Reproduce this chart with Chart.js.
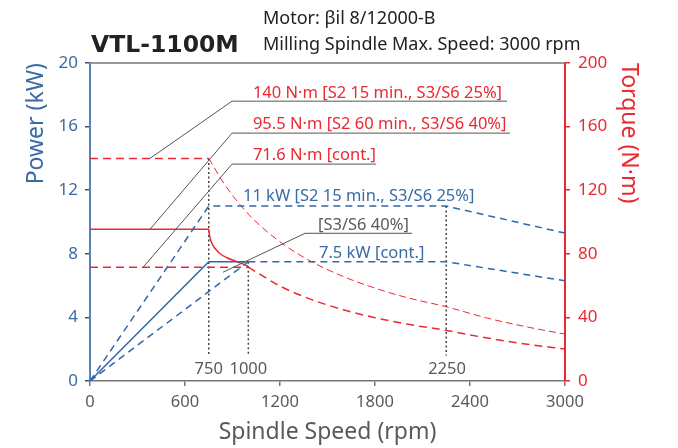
<!DOCTYPE html>
<html>
<head>
<meta charset="utf-8">
<script src="https://cdn.jsdelivr.net/npm/chart.js@4"></script>
<style>
  html, body { margin: 0; padding: 0; background: #fff; }
  #wrap { width: 678px; height: 448px; }
</style>
</head>
<body>
<div id="wrap"><canvas id="spindle" width="678" height="448"></canvas></div>
<script>
// speed in rpm, power in kW, torque in N·m
const xTicks = [0, 600, 1200, 1800, 2400, 3000];

const powerS2Speed = [0, 750, 2250, 3000];
const powerS2Kw = [0, 11, 11, 9.3];

const powerContSolidSpeed = [0, 750, 1000];
const powerContSolidKw = [0, 7.5, 7.5];
const powerContDashSpeed = [1000, 2250, 3000];
const powerContDashKw = [7.5, 7.5, 6.3];

const powerS3Speed = [0, 1000];
const powerS3Kw = [0, 7.5];

const torqueS2FlatSpeed = [0, 750];
const torqueS2FlatNm = [140, 140];
const torqueS2CurveSpeed = [750, 850, 1000, 1200, 1400, 1600, 1800, 2000, 2250, 2500, 2750, 3000];
const torqueS2CurveNm = [140, 123.6, 105, 87.5, 75, 65.7, 58.4, 52.5, 46.7, 39.8, 34.2, 29.5];

const torqueS3Speed = [0, 750, 752, 758, 770, 790, 820, 865, 920, 980, 1000];
const torqueS3Nm = [95.5, 95.5, 93.5, 90, 86.5, 83.3, 80.2, 77.5, 75.3, 73, 72];

const torqueContFlatSpeed = [0, 1000];
const torqueContFlatNm = [71.6, 71.6];
const torqueContCurveSpeed = [1000, 1200, 1400, 1600, 1800, 2000, 2250, 2500, 2750, 3000];
const torqueContCurveNm = [71.6, 59.7, 51.2, 44.8, 39.8, 35.8, 31.8, 27.2, 23.3, 20.1];

const guideSpeed = [750, 1000, 2250];
const guideTopKw = [14, 7.5, 11];
const guideBottomKw = 1.6;

const BLUE = '#2f67ab';
const BLUE_AXIS = '#5683b8';
const BLUE_TEXT = '#3a6ba5';
const RED = '#ec2830';
const GRAY = '#5a5a5a';
const FONT = "'Noto Sans', sans-serif";

function pts(xs, ys) {
    return xs.map((x, i) => ({x: x, y: ys[i]}));
}

function series(xs, ys, color, axis, width, dash) {
    return {
        data: pts(xs, ys),
        yAxisID: axis,
        borderColor: color,
        borderWidth: width,
        borderDash: dash || [],
        pointRadius: 0,
        fill: false,
        tension: 0
    };
}

let datasets = [
    series(powerS2Speed, powerS2Kw, BLUE, 'y', 1.5, [7, 5]),
    series(powerContSolidSpeed, powerContSolidKw, BLUE, 'y', 1.5),
    series(powerContDashSpeed, powerContDashKw, BLUE, 'y', 1.5, [7, 5]),
    series(powerS3Speed, powerS3Kw, BLUE, 'y', 1.5, [7, 5]),
    series(torqueS2FlatSpeed, torqueS2FlatNm, RED, 'y2', 1.5, [8, 5]),
    series(torqueS2CurveSpeed, torqueS2CurveNm, RED, 'y2', 1, [7, 4]),
    series(torqueS3Speed, torqueS3Nm, RED, 'y2', 1.5),
    series(torqueContFlatSpeed, torqueContFlatNm, RED, 'y2', 1.5, [8, 5]),
    series(torqueContCurveSpeed, torqueContCurveNm, RED, 'y2', 1.5, [8, 5])
];
datasets[6].cubicInterpolationMode = 'monotone';
datasets[5].cubicInterpolationMode = 'monotone';
datasets[8].cubicInterpolationMode = 'monotone';

guideSpeed.forEach((s, i) => {
    datasets.push(series([s, s], [guideTopKw[i], guideBottomKw], '#444', 'y', 1.5, [2, 2.5]));
});

// annotation texts, placed in data units (speed, kW)
const notes = [
    {text: '140 N·m [S2 15 min., S3/S6 25%]', color: RED, x: 1029, y: 17.81,
        line: [[379, 14.0], [897, 17.6], [2634, 17.6]]},
    {text: '95.5 N·m [S2 60 min., S3/S6 40%]', color: RED, x: 1029, y: 15.88,
        line: [[379, 9.54], [897, 15.59], [2653, 15.59]]},
    {text: '71.6 N·m [cont.]', color: RED, x: 1029, y: 13.89,
        line: [[335, 7.15], [897, 13.64], [1806, 13.64]]},
    {text: '11 kW [S2 15 min., S3/S6 25%]', color: BLUE_TEXT, x: 966, y: 11.33},
    {text: '[S3/S6 40%]', color: GRAY, x: 1440, y: 9.48,
        line: [[840, 6.84], [1358, 9.29], [2034, 9.29]]},
    {text: '7.5 kW [cont.]', color: BLUE_TEXT, x: 1446, y: 7.76}
];
const speedMarks = [[750, '750'], [1000, '1000'], [2255, '2250']];

const notesPlugin = {
    id: 'notes',
    afterDatasetsDraw(chart) {
        const ctx = chart.ctx;
        const xs = chart.scales.x, ys = chart.scales.y;
        const area = chart.chartArea;
        ctx.save();
        // frame top
        ctx.strokeStyle = '#777';
        ctx.lineWidth = 1.5;
        ctx.beginPath();
        ctx.moveTo(area.left, area.top);
        ctx.lineTo(area.right, area.top);
        ctx.stroke();

        ctx.font = '16.5px ' + FONT;
        ctx.textBaseline = 'alphabetic';
        notes.forEach(n => {
            if (n.line) {
                ctx.strokeStyle = '#555';
                ctx.lineWidth = 1;
                ctx.beginPath();
                n.line.forEach((p, i) => {
                    const px = xs.getPixelForValue(p[0]), py = ys.getPixelForValue(p[1]);
                    if (i === 0) ctx.moveTo(px, py); else ctx.lineTo(px, py);
                });
                ctx.stroke();
            }
            ctx.fillStyle = n.color;
            ctx.textAlign = 'left';
            ctx.fillText(n.text, xs.getPixelForValue(n.x), ys.getPixelForValue(n.y));
        });

        ctx.fillStyle = GRAY;
        ctx.textAlign = 'center';
        speedMarks.forEach(m => {
            ctx.fillText(m[1], xs.getPixelForValue(m[0]), ys.getPixelForValue(0.46));
        });

        // heading
        ctx.textAlign = 'left';
        ctx.fillStyle = '#222';
        ctx.font = "bold 23.5px 'DejaVu Sans', sans-serif";
        ctx.fillText('VTL-1100M', 91, 51.5);
        ctx.font = '18px ' + FONT;
        ctx.fillText('Motor: βil 8/12000-B', 263, 23.5);
        ctx.fillText('Milling Spindle Max. Speed: 3000 rpm', 263, 50);
        ctx.restore();
    }
};

new Chart(document.getElementById('spindle'), {
    type: 'line',
    data: {datasets: datasets},
    options: {
        responsive: false,
        animation: false,
        layout: {padding: {top: 63, left: 0, right: 0, bottom: 0}},
        plugins: {legend: {display: false}, tooltip: {enabled: false}},
        scales: {
            x: {
                type: 'linear',
                min: 0,
                max: 3000,
                afterBuildTicks: axis => { axis.ticks = xTicks.map(v => ({value: v})); },
                afterFit: axis => { axis.height = 67; },
                ticks: {color: GRAY, font: {family: FONT, size: 16.5}, padding: 6, maxRotation: 0,
                    callback: v => String(v)},
                grid: {drawOnChartArea: false, tickLength: 5, color: '#777', lineWidth: 1.5},
                border: {color: '#777', width: 1.5},
                title: {display: true, text: 'Spindle Speed (rpm)', color: GRAY,
                    font: {family: FONT, size: 23}, padding: {top: 0, bottom: 2}}
            },
            y: {
                position: 'left',
                min: 0,
                max: 20,
                ticks: {stepSize: 4, color: BLUE_TEXT, font: {family: FONT, size: 17}, padding: 7},
                afterFit: axis => { axis.width = 90; },
                grid: {drawOnChartArea: false, tickLength: 5, color: '#33557d', lineWidth: 1.5},
                border: {color: BLUE_AXIS, width: 2},
                title: {display: true, text: 'Power (kW)', color: BLUE_TEXT, align: 'end',
                    font: {family: FONT, size: 23}, padding: {top: 23, bottom: 0}}
            },
            y2: {
                position: 'right',
                min: 0,
                max: 200,
                ticks: {stepSize: 40, color: RED, font: {family: FONT, size: 17}, padding: 8},
                afterFit: axis => { axis.width = 113; },
                grid: {drawOnChartArea: false, tickLength: 5, color: RED, lineWidth: 1.5},
                border: {color: RED, width: 2},
                title: {display: true, text: 'Torque (N·m)', color: RED, align: 'end',
                    font: {family: FONT, size: 23}, padding: {top: 36, bottom: 0}}
            }
        }
    },
    plugins: [notesPlugin]
});
</script>
</body>
</html>
